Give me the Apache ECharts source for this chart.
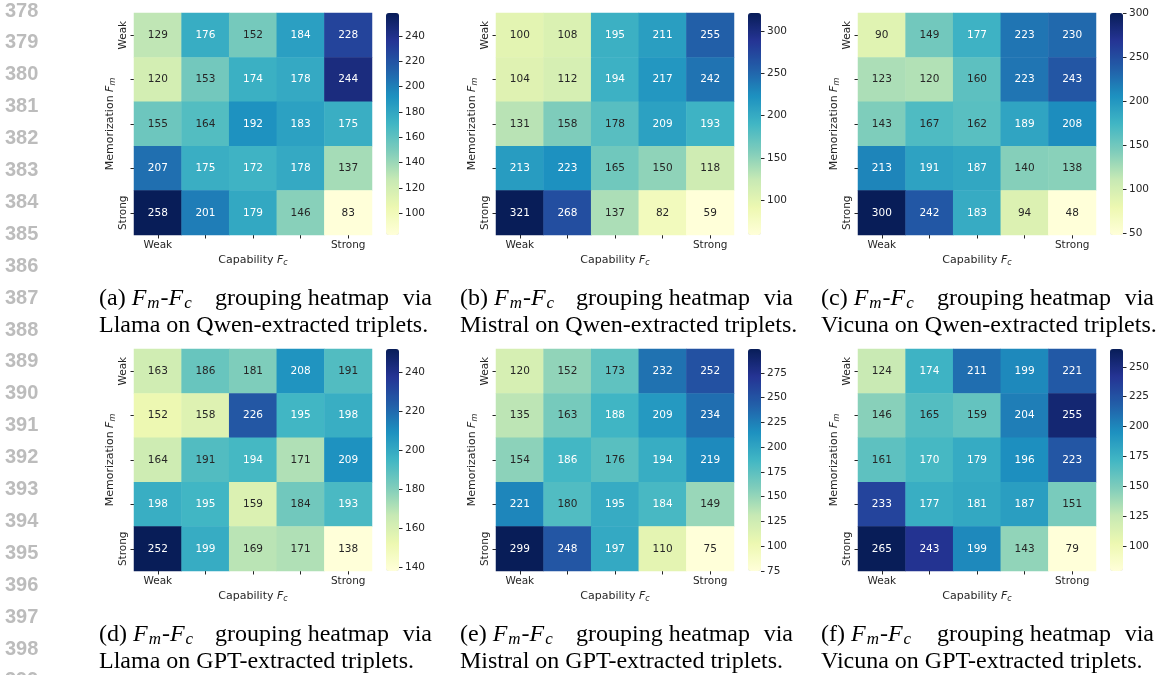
<!DOCTYPE html>
<html>
<head>
<meta charset="utf-8">
<script src="https://cdn.jsdelivr.net/npm/echarts@6/dist/echarts.min.js"></script>
<style>
  html, body { margin: 0; padding: 0; background: #fff; }
  #chart { width: 1158px; height: 675px; }
</style>
</head>
<body>
<div id="chart"></div>
<script>
// rows: memorization Weak -> Strong, cols: capability Weak -> Strong
var llamaQwen = [
  [129, 176, 152, 184, 228],
  [120, 153, 174, 178, 244],
  [155, 164, 192, 183, 175],
  [207, 175, 172, 178, 137],
  [258, 201, 179, 146, 83]
];
var mistralQwen = [
  [100, 108, 195, 211, 255],
  [104, 112, 194, 217, 242],
  [131, 158, 178, 209, 193],
  [213, 223, 165, 150, 118],
  [321, 268, 137, 82, 59]
];
var vicunaQwen = [
  [90, 149, 177, 223, 230],
  [123, 120, 160, 223, 243],
  [143, 167, 162, 189, 208],
  [213, 191, 187, 140, 138],
  [300, 242, 183, 94, 48]
];
var llamaGpt = [
  [163, 186, 181, 208, 191],
  [152, 158, 226, 195, 198],
  [164, 191, 194, 171, 209],
  [198, 195, 159, 184, 193],
  [252, 199, 169, 171, 138]
];
var mistralGpt = [
  [120, 152, 173, 232, 252],
  [135, 163, 188, 209, 234],
  [154, 186, 176, 194, 219],
  [221, 180, 195, 184, 149],
  [299, 248, 197, 110, 75]
];
var vicunaGpt = [
  [124, 174, 211, 199, 221],
  [146, 165, 159, 204, 255],
  [161, 170, 179, 196, 223],
  [233, 177, 181, 187, 151],
  [265, 243, 199, 143, 79]
];

var levels = ['Weak', 'L2', 'L3', 'L4', 'Strong'];

var ticksLlamaQwen = [100, 120, 140, 160, 180, 200, 220, 240];
var ticksMistralQwen = [100, 150, 200, 250, 300];
var ticksVicunaQwen = [50, 100, 150, 200, 250, 300];
var ticksLlamaGpt = [140, 160, 180, 200, 220, 240];
var ticksMistralGpt = [75, 100, 125, 150, 175, 200, 225, 250, 275];
var ticksVicunaGpt = [100, 125, 150, 175, 200, 225, 250];

var panelLetters = ['a', 'b', 'c', 'd', 'e', 'f'];
var panelModels = ['Llama', 'Mistral', 'Vicuna', 'Llama', 'Mistral', 'Vicuna'];
var panelSources = ['Qwen', 'Qwen', 'Qwen', 'GPT', 'GPT', 'GPT'];

var lineNumbers = [378, 379, 380, 381, 382, 383, 384, 385, 386, 387, 388,
  389, 390, 391, 392, 393, 394, 395, 396, 397, 398, 399];

var panels = [
  { data: llamaQwen, ticks: ticksLlamaQwen },
  { data: mistralQwen, ticks: ticksMistralQwen },
  { data: vicunaQwen, ticks: ticksVicunaQwen },
  { data: llamaGpt, ticks: ticksLlamaGpt },
  { data: mistralGpt, ticks: ticksMistralGpt },
  { data: vicunaGpt, ticks: ticksVicunaGpt }
];

const YLGNBU = ['#ffffd9', '#edf8b1', '#c7e9b4', '#7fcdbb', '#41b6c4',
  '#1d91c0', '#225ea8', '#253494', '#081d58'];
const DARK = '#262626';
const SANS = 'DejaVu Sans';
const SERIF = 'Liberation Serif';

function hexRgb(h) {
  return [parseInt(h.substr(1, 2), 16), parseInt(h.substr(3, 2), 16), parseInt(h.substr(5, 2), 16)];
}
function cmap(t) {
  t = Math.max(0, Math.min(1, t)) * (YLGNBU.length - 1);
  var i = Math.min(Math.floor(t), YLGNBU.length - 2), f = t - i;
  var a = hexRgb(YLGNBU[i]), b = hexRgb(YLGNBU[i + 1]);
  return [0, 1, 2].map(k => a[k] + (b[k] - a[k]) * f);
}
function luminance(rgb) {
  var c = rgb.map(v => {
    v = v / 255;
    return v <= 0.03928 ? v / 12.92 : Math.pow((v + 0.055) / 1.055, 2.4);
  });
  return 0.2126 * c[0] + 0.7152 * c[1] + 0.0722 * c[2];
}

var colLeft = [134, 496, 858];
var capLeft = [99, 460, 821];
var rowTop = [13, 349];
var W = 238, H = 222, CB_GAP = 252, CB_W = 13;
var FS = 10.5;

var edgeLabel = function (v, i) { return (i === 0 || i === 4) ? v : ''; };
var mathRich = {
  i: { fontStyle: 'italic', fontFamily: SANS, fontSize: 11, color: DARK },
  s: { fontStyle: 'italic', fontFamily: SANS, fontSize: 8, color: DARK, padding: [6, 0, 0, 0] }
};

var grid = [], xAxis = [], yAxis = [], series = [], visualMap = [], graphic = [];

panels.forEach(function (p, k) {
  var left = colLeft[k % 3], top = rowTop[Math.floor(k / 3)];
  var flat = [].concat.apply([], p.data);
  var vmin = Math.min.apply(null, flat), vmax = Math.max.apply(null, flat);

  // heatmap grid
  grid.push({ left: left, top: top, width: W, height: H });
  xAxis.push({
    type: 'category', gridIndex: 2 * k, data: levels,
    axisLine: { show: false },
    axisTick: { show: true, alignWithLabel: true, length: 3.5, lineStyle: { color: DARK, width: 1 } },
    axisLabel: { formatter: edgeLabel, interval: 0, margin: 5, fontSize: FS, fontFamily: SANS, color: DARK },
    splitLine: { show: false },
    name: 'Capability {i|F}{s|c}', nameLocation: 'middle', nameGap: 18,
    nameTextStyle: { fontFamily: SANS, fontSize: 11, color: DARK, rich: mathRich }
  });
  yAxis.push({
    type: 'category', gridIndex: 2 * k, data: levels, inverse: true,
    axisLine: { show: false },
    axisTick: { show: true, alignWithLabel: true, length: 3.5, lineStyle: { color: DARK, width: 1 } },
    axisLabel: { formatter: edgeLabel, interval: 0, rotate: 90, margin: 5, fontSize: FS, fontFamily: SANS, color: DARK },
    splitLine: { show: false },
    name: 'Memorization {i|F}{s|m}', nameLocation: 'middle', nameGap: 17, nameRotate: 90,
    nameTextStyle: { fontFamily: SANS, fontSize: 11, color: DARK, rich: mathRich }
  });

  // colorbar axis grid
  grid.push({ left: left + CB_GAP, top: top, width: CB_W, height: H });
  xAxis.push({ type: 'category', gridIndex: 2 * k + 1, data: [''], show: false });
  yAxis.push({
    type: 'value', gridIndex: 2 * k + 1, position: 'right', min: vmin, max: vmax,
    axisLine: { show: false },
    splitLine: { show: false },
    axisTick: { show: true, length: 3.5, customValues: p.ticks, lineStyle: { color: DARK } },
    axisLabel: { customValues: p.ticks, margin: 6, fontSize: FS, fontFamily: SANS, color: DARK }
  });

  var cells = [];
  p.data.forEach(function (row, r) {
    row.forEach(function (v, c) {
      var lum = luminance(cmap((v - vmin) / (vmax - vmin)));
      cells.push({ value: [c, r, v], label: { color: lum > 0.408 ? DARK : '#ffffff' } });
    });
  });
  series.push({
    type: 'heatmap', xAxisIndex: 2 * k, yAxisIndex: 2 * k, data: cells,
    label: { show: true, fontSize: FS, fontFamily: SANS, formatter: function (d) { return d.value[2]; } },
    itemStyle: { borderWidth: 0 },
    emphasis: { disabled: true }
  });
  visualMap.push({
    type: 'continuous', seriesIndex: k, min: vmin, max: vmax, show: true,
    left: left + CB_GAP, top: top, itemWidth: CB_W, itemHeight: H,
    calculable: false, hoverLink: false, padding: 0, text: null,
    inRange: { color: YLGNBU }
  });

  // caption
  var cx = capLeft[k % 3], cy = top + 274, capW = 333;
  var capStyle = { fontFamily: SERIF, fontSize: 24, fill: '#000' };
  graphic.push({
    type: 'text', left: cx, top: cy,
    style: Object.assign({}, capStyle, {
      text: '(' + panelLetters[k] + ') {F|F}{m|m}{t|-}{F|F}{m|c}',
      rich: {
        F: { fontFamily: SERIF, fontStyle: 'italic', fontSize: 24 },
        m: { fontFamily: SERIF, fontStyle: 'italic', fontSize: 17, padding: [9, 1, 0, 1] },
        t: { fontFamily: SERIF, fontSize: 24 }
      }
    })
  });
  graphic.push({ type: 'text', left: cx + 116, top: cy, style: Object.assign({}, capStyle, { text: 'grouping heatmap' }) });
  graphic.push({ type: 'text', right: 1158 - (cx + capW), top: cy, style: Object.assign({}, capStyle, { text: 'via' }) });
  graphic.push({
    type: 'text', left: cx, top: cy + 27,
    style: Object.assign({}, capStyle, { text: panelModels[k] + ' on ' + panelSources[k] + '-extracted triplets.' })
  });
});

lineNumbers.forEach(function (n, i) {
  graphic.push({
    type: 'text', left: 5, top: 1 + i * 31.9,
    style: { text: String(n), fontFamily: 'Liberation Sans', fontWeight: 'bold', fontSize: 20, fill: '#bcbcbc' }
  });
});

var myChart = echarts.init(document.getElementById('chart'), null, { renderer: 'canvas' });
myChart.setOption({
  animation: false,
  backgroundColor: '#ffffff',
  grid: grid,
  xAxis: xAxis,
  yAxis: yAxis,
  visualMap: visualMap,
  series: series,
  graphic: graphic
});
</script>
</body>
</html>
